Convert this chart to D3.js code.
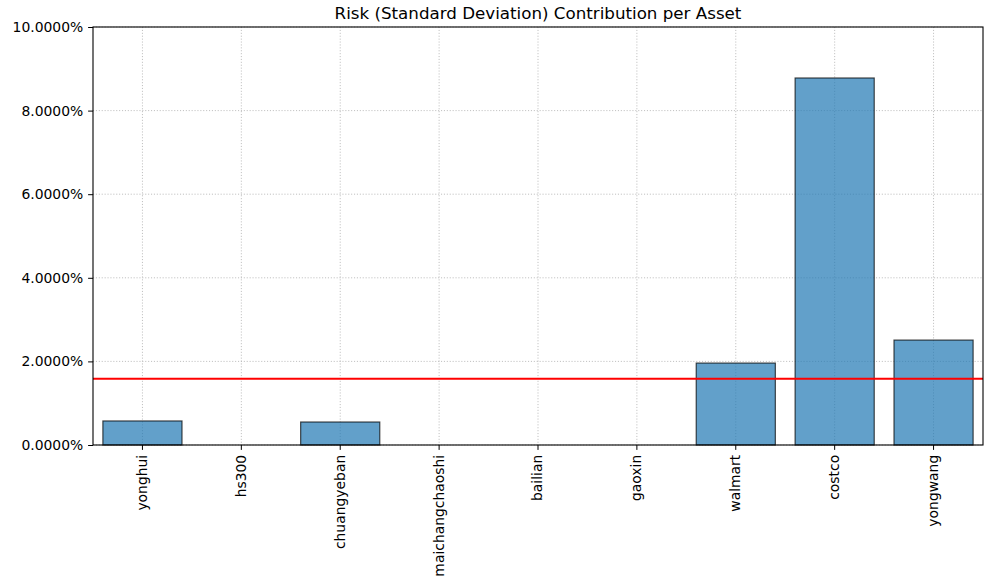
<!DOCTYPE html>
<html>
<head>
<meta charset="utf-8">
<script src="https://cdn.jsdelivr.net/npm/d3@7"></script>
<style>
  body { margin: 0; background: #fff; }
  svg { font-family: "DejaVu Sans", sans-serif; }
</style>
</head>
<body>
<svg id="chart" width="1007" height="588"></svg>
<script>
// values (percent)
const assets = ["yonghui", "hs300", "chuangyeban", "maichangchaoshi", "bailian", "gaoxin", "walmart", "costco", "yongwang"];
const contributions = [0.575, 0, 0.55, 0, 0, 0, 1.96, 8.78, 2.51];
const meanLine = 1.585;
const yTicks = [0, 2, 4, 6, 8, 10];

let svg = d3.select("#chart"),
    margin = {top: 27, right: 24, bottom: 143, left: 93},
    width = 1007 - margin.left - margin.right,
    height = 588 - margin.top - margin.bottom,
    g = svg.append("g").attr("transform", "translate(" + margin.left + "," + margin.top + ")");

let x = d3.scaleBand()
    .domain(assets)
    .range([0, width])
    .paddingInner(0.2)
    .paddingOuter(0.1);

let y = d3.scaleLinear()
    .domain([0, 10])
    .range([height, 0]);

// grid
g.append("g")
    .selectAll("line")
    .data(assets)
    .enter().append("line")
    .attr("x1", d => x(d) + x.bandwidth() / 2)
    .attr("x2", d => x(d) + x.bandwidth() / 2)
    .attr("y1", 0).attr("y2", height)
    .attr("stroke", "#b0b0b0").attr("stroke-width", 0.8)
    .attr("stroke-dasharray", "1.1,1.8");

g.append("g")
    .selectAll("line")
    .data(yTicks)
    .enter().append("line")
    .attr("x1", 0).attr("x2", width)
    .attr("y1", d => y(d)).attr("y2", d => y(d))
    .attr("stroke", "#b0b0b0").attr("stroke-width", 0.8)
    .attr("stroke-dasharray", "1.1,1.8");

// bars
g.selectAll("rect.bar")
    .data(assets)
    .enter().append("rect")
    .classed("bar", true)
    .attr("x", d => x(d))
    .attr("width", x.bandwidth())
    .attr("y", (d, i) => y(contributions[i]))
    .attr("height", (d, i) => y(0) - y(contributions[i]))
    .attr("fill", "#1f77b4").attr("fill-opacity", 0.7)
    .attr("stroke", "#000").attr("stroke-opacity", 0.7)
    .attr("stroke-width", 1.2);

// average line
g.append("line")
    .attr("x1", 0).attr("x2", width)
    .attr("y1", y(meanLine)).attr("y2", y(meanLine))
    .attr("stroke", "red").attr("stroke-width", 2);

// axes
let xAxis = g.append("g")
    .attr("transform", "translate(0," + height + ")")
    .call(d3.axisBottom(x).tickSizeOuter(0).tickSize(4.9).tickPadding(4.9));
xAxis.select(".domain").remove();
xAxis.selectAll("text")
    .attr("transform", "rotate(-90)")
    .attr("text-anchor", "end")
    .attr("dy", "0.32em")
    .attr("x", -9.8)
    .attr("y", 0)
    .attr("font-size", "13.9px")
    .attr("font-family", "DejaVu Sans")
    .attr("fill", "#000");

let yAxis = g.append("g")
    .call(d3.axisLeft(y).tickValues(yTicks).tickFormat(d => d.toFixed(4) + "%")
        .tickSizeOuter(0).tickSize(4.9).tickPadding(4.9));
yAxis.select(".domain").remove();
yAxis.selectAll("text")
    .attr("font-size", "13.9px")
    .attr("font-family", "DejaVu Sans")
    .attr("fill", "#000");

// frame
g.append("rect")
    .attr("x", 0).attr("y", 0)
    .attr("width", width).attr("height", height)
    .attr("fill", "none").attr("stroke", "#000").attr("stroke-width", 1.1);

// title
svg.append("text")
    .attr("x", margin.left + width / 2)
    .attr("y", 19)
    .attr("text-anchor", "middle")
    .attr("font-size", "16.7px")
    .text("Risk (Standard Deviation) Contribution per Asset");
</script>
</body>
</html>
